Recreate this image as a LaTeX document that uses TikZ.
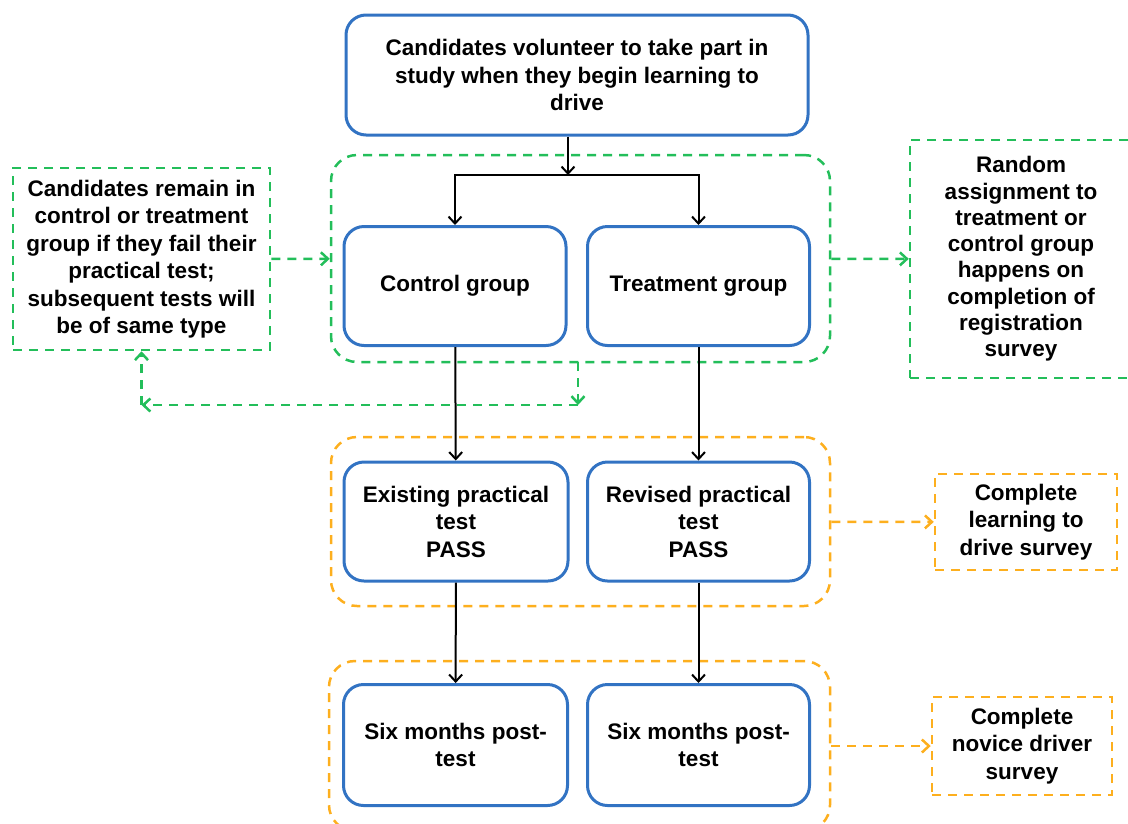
\documentclass[tikz,border=0pt]{standalone}
\usepackage{fontspec}
\setmainfont{Liberation Sans}
\usetikzlibrary{arrows.meta}

\definecolor{boxblue}{RGB}{50,115,195}
\definecolor{grpgreen}{RGB}{35,190,90}
\definecolor{grporange}{RGB}{253,175,30}

\tikzset{
    boxfont/.style={font=\bfseries\fontsize{22.5}{27.5}\selectfont, align=center, text=black},
    stage/.style={boxfont, draw=boxblue, line width=3pt, rounded corners=20pt,
        minimum width=222pt, minimum height=119pt, inner sep=2pt},
    greengrp/.style={draw=grpgreen, line width=2.5pt, dash pattern=on 9pt off 7pt, rounded corners=26pt},
    orangegrp/.style={draw=grporange, line width=2.5pt, dash pattern=on 9pt off 7pt, rounded corners=26pt},
    greennote/.style={boxfont, draw=grpgreen, line width=2.5pt, dash pattern=on 9pt off 7pt, inner sep=2pt},
    orangenote/.style={boxfont, draw=grporange, line width=2.5pt, dash pattern=on 9pt off 7pt, inner sep=2pt},
    flow/.style={->, line width=2pt, black},
    garrow/.style={->, line width=2.5pt, grpgreen, dash pattern=on 9pt off 7pt},
    oarrow/.style={->, line width=2.5pt, grporange, dash pattern=on 9pt off 7pt}
}

\begin{document}
\begin{tikzpicture}[x=1pt, y=-1pt, >={Straight Barb[length=7pt,width=13pt]}]
    \useasboundingbox (0,0) rectangle (1128,823);

    % Dashed groups round the two arms
    \node[greengrp, minimum width=499pt, minimum height=207pt] (grprand) at (580.5,258.5) {};
    \node[orangegrp, minimum width=499pt, minimum height=169pt] (grptest) at (580.5,521.5) {};
    \node[orangegrp, minimum width=501pt, minimum height=170pt] (grpfollow) at (579.5,746) {};

    % Main stages
    \node[stage, minimum width=462pt, minimum height=120pt] (start) at (577,75)
        {Candidates volunteer to take part in\\study when they begin learning to\\drive};
    \node[stage] (ctrl) at (455,286) {Control group};
    \node[stage] (treat) at (698.5,286) {Treatment group};
    \node[stage, minimum width=224pt] (exist) at (456,521.5) {Existing practical\\test\\PASS};
    \node[stage] (revis) at (698.5,521.5) {Revised practical\\test\\PASS};
    \node[stage, minimum width=224pt, minimum height=121pt] (sixctrl) at (455.5,745) {Six months post-\\test};
    \node[stage, minimum height=121pt] (sixtreat) at (698.5,745) {Six months post-\\test};

    % Side notes
    \node[greennote, minimum width=257pt, minimum height=182pt] (stay) at (141.5,259)
        {Candidates remain in\\control or treatment\\group if they fail their\\practical test;\\subsequent tests will\\be of same type};
    \node[greennote, minimum width=222pt, minimum height=238pt, font=\bfseries\fontsize{22.5}{26.3}\selectfont] (rand) at (1021,259)
        {Random\\assignment to\\treatment or\\control group\\happens on\\completion of\\registration\\survey};
    \node[orangenote, minimum width=182pt, minimum height=96pt] (learn) at (1026,522)
        {Complete\\learning to\\drive survey};
    \node[orangenote, minimum width=180pt, minimum height=98pt] (novice) at (1022,746)
        {Complete\\novice driver\\survey};

    % Flow arrows
    \coordinate (split) at (568,175);
    \draw[flow] (start.south -| split) -- (split);
    \draw[flow] (split) -| (ctrl.north);
    \draw[flow] (split) -| (treat.north);
    \draw[flow] (ctrl) -- (exist);
    \draw[flow] (treat) -- (revis);
    \draw[flow] (exist) -- (sixctrl);
    \draw[flow] (revis) -- (sixtreat);

    % Dashed links to the notes
    \draw[garrow] (stay) -- (grprand);
    \draw[garrow] (grprand) -- (rand);
    \draw[oarrow] (grptest) -- (learn);
    \draw[oarrow] (grpfollow) -- (novice);

    % Loop back to the note on failing
    \coordinate (loopa) at (578,362);
    \coordinate (loopb) at (578,405);
    \coordinate (loopc) at (141.5,405);
    \draw[garrow] (loopa) -- (loopb);
    \draw[garrow] (loopb) -- (loopc);
    \draw[garrow] (loopc) -- (stay);
\end{tikzpicture}
\end{document}
